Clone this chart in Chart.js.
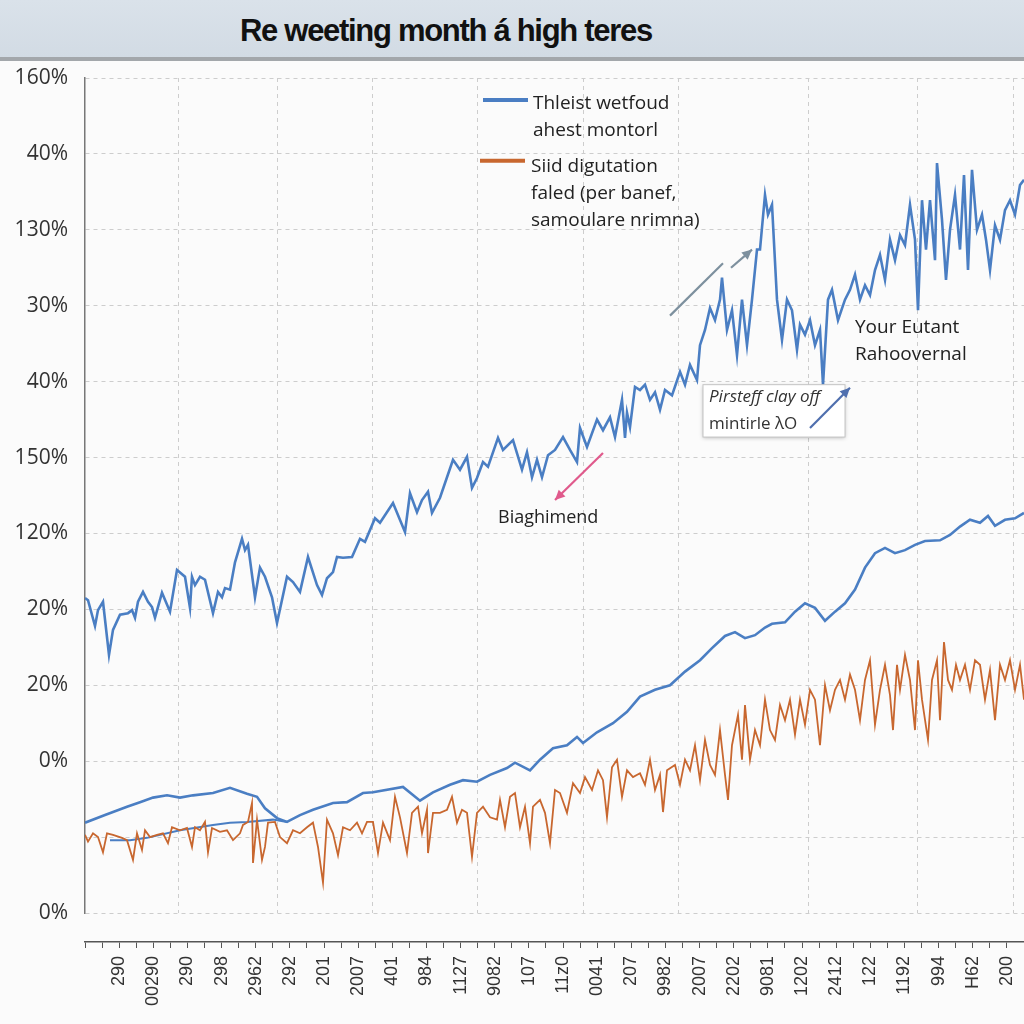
<!DOCTYPE html>
<html lang="en">
<head>
    <meta charset="UTF-8">
    <title>Re weeting month</title>
    <script src="https://cdn.jsdelivr.net/npm/chart.js"></script>
    <style>
        body { margin: 0; background: #fbfbfb; }
        #banner {
            height: 57px;
            padding-left: 240px;
            background: linear-gradient(#dae2ea, #d2dbe4);
            border-bottom: 4px solid #a3a7ab;
            font: bold 31px "Liberation Sans", sans-serif;
            line-height: 62px;
            letter-spacing: -1.3px;
            color: #111;
        }
        canvas { display: block; }
    </style>
</head>
<body>
    <div id="banner">Re weeting month á high teres</div>
    <canvas id="mainChart" width="1024" height="963"></canvas>
    <script>
        // y tick labels, bottom to top (one per 10 units)
        const yTickLabels = ['0%', '', '0%', '20%', '20%', '120%', '150%', '40%', '30%', '130%', '40%', '160%'];
        // bottom axis labels
        const xTickLabels = ['290', '00290', '290', '298', '2962', '292', '201', '2007', '401', '984', '1127', '9082', '107',
            '11z0', '0041', '207', '9982', '2007', '2202', '9081', '1202', '2412', '122', '1192', '994', 'H62', '200'];
        // days where the vertical grid lines sit
        const gridDays = [93, 192, 287, 392, 498, 593, 723, 832, 928];

        // [day, value]
        const blueUpper = [[0,41.5],[3,41.2],[10,37.8],[13,39.9],[18,41.0],[24,34.0],[28,37.3],[35,39.3],[43,39.5],[47,39.9],
            [50,38.9],[53,41.0],[58,42.3],[63,41.0],[67,40.3],[70,38.9],[77,42.2],[85,39.7],[92,45.2],[100,44.3],[105,40.2],
            [107,44.3],[110,43.2],[115,44.3],[120,43.9],[128,39.5],[133,42.3],[137,41.6],[140,42.8],[145,42.6],[150,46.2],
            [157,49.3],[160,47.8],[163,48.5],[170,41.6],[175,45.5],[180,44.3],[187,41.6],[192,38.2],[202,44.3],[208,43.6],
            [215,42.3],[223,46.9],[232,43.2],[237,41.9],[242,44.1],[248,44.9],[252,46.9],[258,46.8],[267,46.9],[275,49.3],
            [280,48.9],[290,52.0],[295,51.4],[308,54.0],[320,50.2],[325,55.3],[332,52.8],[337,54.4],[343,55.5],[347,52.7],
            [355,54.7],[362,57.4],[368,59.7],[375,58.4],[382,60.1],[387,56.0],[392,57.3],[398,59.4],[403,58.8],[413,62.6],
            [418,61.0],[428,62.3],[437,58.4],[442,60.7],[447,57.4],[452,59.7],[457,57.4],[463,60.3],[470,61.0],[478,62.7],
            [485,61.0],[492,59.4],[495,63.9],[502,61.4],[512,65.0],[518,63.6],[525,65.3],[530,62.7],[537,67.6],[540,62.6],
            [542,65.9],[545,64.0],[550,69.3],[555,68.9],[560,69.6],[565,67.6],[570,68.6],[575,66.3],[580,68.9],[587,68.2],
            [595,71.3],[600,69.6],[605,72.2],[612,70.2],[615,74.8],[620,76.8],[625,79.7],[630,78.1],[635,80.8],[637,83.7],
            [642,76.8],[647,79.4],[652,73.5],[657,80.8],[662,74.8],[667,80.8],[672,87.4],[675,87.4],[680,94.6],[683,92.0],
            [687,93.3],[692,80.8],[697,75.5],[702,80.8],[707,79.4],[712,74.2],[715,77.5],[720,76.2],[725,78.1],[730,74.8],
            [735,76.8],[738,69.6],[743,80.8],[747,82.1],[753,78.1],[760,80.8],[765,82.1],[770,84.1],[775,80.8],[780,82.7],
            [785,81.4],[790,84.7],[795,86.7],[800,83.4],[805,88.7],[810,86.0],[815,89.3],[820,88.0],[825,93.3],[830,88.7],
            [833,79.4],[837,93.9],[841,87.4],[845,93.9],[850,86.0],[852,98.8],[857,91.3],[861,83.4],[865,90.0],[870,94.6],
            [875,87.4],[879,97.2],[883,84.7],[887,97.9],[892,90.0],[897,92.0],[901,88.7],[905,84.7],[910,90.6],[915,88.7],
            [920,92.6],[925,93.9],[930,92.0],[935,95.9],[939,96.6]];

        const blueLower = [[0,11.9],[20,12.9],[42,14.0],[55,14.6],[68,15.2],[82,15.5],[95,15.2],[108,15.5],[128,15.8],[145,16.5],
            [162,15.7],[172,15.3],[180,13.8],[192,12.5],[202,12.0],[215,12.9],[228,13.6],[248,14.5],[262,14.6],[278,15.8],
            [288,15.9],[318,16.6],[335,14.8],[348,15.9],[365,16.9],[378,17.5],[392,17.3],[405,18.2],[422,19.1],[430,19.8],
            [445,18.8],[455,20.2],[468,21.7],[482,22.1],[492,23.2],[498,22.4],[512,23.8],[528,25.0],[542,26.5],[555,28.5],
            [570,29.4],[585,30.0],[600,31.8],[615,33.3],[627,34.9],[640,36.5],[650,37.0],[660,36.2],[670,36.6],[680,37.6],
            [687,38.1],[700,38.3],[710,39.7],[720,40.8],[730,40.2],[740,38.5],[750,39.7],[760,40.8],[770,42.6],[780,45.5],
            [790,47.4],[800,48.1],[810,47.4],[820,47.8],[830,48.5],[840,49.0],[855,49.1],[865,49.8],[875,50.9],[885,51.8],
            [895,51.4],[903,52.3],[910,51.0],[920,51.8],[930,52.0],[939,52.7]];

        const blueShort = [[25,9.6],[45,9.6],[62,9.9],[95,10.9],[128,11.6],[145,11.9],[162,12.0],[188,12.3],[202,12.0]];

        const orange = [[0,10.3],[3,9.4],[8,10.5],[13,10.0],[18,8.0],[22,10.5],[28,10.3],[37,9.9],[42,9.6],[48,7.0],[52,10.5],
            [57,8.3],[60,10.9],[65,10.0],[72,10.3],[78,10.5],[83,9.2],[87,11.3],[95,10.9],[102,11.2],[107,8.7],[110,11.3],
            [115,10.9],[120,12.0],[123,8.0],[127,11.2],[135,10.7],[142,10.9],[148,9.6],[155,10.5],[158,11.6],[163,12.0],
            [167,14.5],[168,6.6],[172,12.3],[177,7.0],[180,8.7],[183,11.9],[190,12.0],[195,10.0],[202,9.2],[208,10.9],
            [215,10.5],[222,11.3],[228,11.9],[233,8.7],[238,4.0],[242,12.3],[248,10.5],[253,7.6],[258,11.3],[265,10.9],
            [272,11.9],[277,10.5],[282,12.0],[288,12.0],[293,7.9],[298,11.9],[305,9.6],[310,15.3],[315,12.6],[322,7.9],
            [327,13.2],[333,14.0],[337,10.5],[342,13.6],[343,7.9],[348,13.2],[355,13.2],[362,13.6],[367,15.3],[372,11.9],
            [377,13.6],[382,13.2],[387,7.4],[392,13.2],[398,14.0],[405,12.6],[412,12.3],[415,14.9],[420,11.3],[425,15.3],
            [430,15.8],[435,11.3],[440,14.0],[445,9.2],[448,14.0],[455,14.9],[460,13.2],[465,9.2],[470,16.2],[475,15.8],
            [482,13.2],[488,17.1],[495,15.8],[500,17.9],[507,16.2],[513,18.8],[518,17.5],[522,12.6],[527,19.2],[532,20.2],
            [537,15.3],[542,18.8],[548,17.9],[555,18.4],[560,16.9],[565,20.2],[570,16.2],[575,18.2],[578,13.3],[582,18.8],
            [590,19.5],[595,16.9],[600,20.2],[605,18.8],[610,22.1],[615,17.5],[620,22.8],[625,19.5],[630,18.2],[635,24.1],
            [640,18.2],[643,14.9],[647,22.1],[653,26.1],[657,20.2],[660,27.4],[665,20.2],[670,24.1],[675,22.1],[680,28.1],
            [685,24.1],[690,22.8],[695,27.4],[700,25.4],[705,28.1],[710,23.5],[715,28.1],[720,24.8],[725,29.4],[730,28.1],
            [735,22.1],[740,30.0],[745,26.7],[750,29.4],[755,30.7],[760,28.1],[765,31.4],[770,29.4],[775,25.4],[780,30.7],
            [785,33.3],[790,24.8],[795,29.4],[800,32.7],[805,28.7],[808,24.1],[812,32.7],[815,29.4],[820,34.0],[825,30.7],
            [830,24.1],[833,33.3],[837,28.1],[843,22.8],[847,30.7],[852,33.3],[855,25.4],[859,35.7],[863,30.7],[867,29.4],
            [871,32.7],[875,30.7],[880,32.7],[885,29.4],[890,33.3],[895,32.7],[900,28.1],[905,32.0],[910,25.4],[915,32.7],
            [920,30.7],[925,33.3],[930,29.4],[935,32.7],[939,28.1]];

        const seriesNames = [
            ['Thleist wetfoud', 'ahest montorl'],
            ['Siid digutation', 'faled (per banef,', 'samoulare nrimna)']
        ];

        const BLUE = '#4a7ec3';
        const ORANGE = '#c8672f';
        const toPts = arr => arr.map(p => ({ x: p[0], y: p[1] }));

        // bottom category axis: a tick every half label
        const bottomCats = [];
        for (let i = 0; i < 56; i++) {
            bottomCats.push(i >= 2 && i % 2 === 0 ? xTickLabels[(i - 2) / 2] : '');
        }

        // drop the label overhang padding chart.js adds around each axis
        const noPad = s => { s.paddingLeft = 0; s.paddingRight = 0; s.paddingTop = 0; s.paddingBottom = 0; };

        function arrow(ctx, x1, y1, x2, y2, color, head) {
            ctx.strokeStyle = color;
            ctx.fillStyle = color;
            ctx.lineWidth = 2.2;
            ctx.beginPath();
            ctx.moveTo(x1, y1);
            ctx.lineTo(x2, y2);
            ctx.stroke();
            if (head) {
                const a = Math.atan2(y2 - y1, x2 - x1);
                ctx.beginPath();
                ctx.moveTo(x2, y2);
                ctx.lineTo(x2 - 11 * Math.cos(a - 0.45), y2 - 11 * Math.sin(a - 0.45));
                ctx.lineTo(x2 - 11 * Math.cos(a + 0.45), y2 - 11 * Math.sin(a + 0.45));
                ctx.closePath();
                ctx.fill();
            }
        }

        const notesPlugin = {
            id: 'notes',
            afterDatasetsDraw(chart) {
                const ctx = chart.ctx;
                const X = d => chart.scales.x.getPixelForValue(d);
                const Y = v => chart.scales.y.getPixelForValue(v);
                ctx.save();
                ctx.textBaseline = 'middle';
                ctx.textAlign = 'left';

                // legend inside the plot
                const legendRows = [
                    { color: BLUE, from: 398, to: 443, at: 107.1, textDay: 448, textV: 106.6 },
                    { color: ORANGE, from: 395, to: 440, at: 99.1, textDay: 446, textV: 98.3 }
                ];
                legendRows.forEach((r, i) => {
                    ctx.strokeStyle = r.color;
                    ctx.lineWidth = 4;
                    ctx.beginPath();
                    ctx.moveTo(X(r.from), Y(r.at));
                    ctx.lineTo(X(r.to), Y(r.at));
                    ctx.stroke();
                    ctx.fillStyle = '#222';
                    ctx.font = '19px "Open Sans"';
                    seriesNames[i].forEach((t, k) => ctx.fillText(t, X(r.textDay), Y(r.textV) + k * 27));
                });

                // arrows
                arrow(ctx, X(585), Y(78.7), X(638), Y(85.6), '#7d909e', false);
                arrow(ctx, X(646), Y(85.0), X(667), Y(87.4), '#7d909e', true);
                arrow(ctx, X(518), Y(60.6), X(470), Y(54.4), '#e05a8c', true);

                // callout box
                ctx.shadowColor = 'rgba(0,0,0,0.25)';
                ctx.shadowBlur = 4;
                ctx.shadowOffsetY = 1;
                ctx.fillStyle = '#ffffff';
                ctx.fillRect(X(618), Y(69.6), X(760) - X(618), Y(62.7) - Y(69.6));
                ctx.shadowColor = 'transparent';
                ctx.strokeStyle = '#c4c4c4';
                ctx.lineWidth = 1;
                ctx.strokeRect(X(618), Y(69.6), X(760) - X(618), Y(62.7) - Y(69.6));
                ctx.fillStyle = '#333';
                ctx.font = 'italic 17px "Open Sans"';
                ctx.fillText('Pirsteff clay off', X(624), Y(67.9));
                ctx.font = '17px "Open Sans"';
                ctx.fillText('mintirle λO', X(624), Y(64.4));
                arrow(ctx, X(725), Y(63.9), X(765), Y(69.2), '#4f6fae', true);

                // free notes
                ctx.fillStyle = '#222';
                ctx.font = '18px "Open Sans"';
                ctx.fillText('Biaghimend', X(413), Y(52.0));
                ctx.font = '19px "Open Sans"';
                ctx.fillText('Your Eutant', X(770), Y(77.1));
                ctx.fillText('Rahoovernal', X(770), Y(73.6));
                ctx.restore();
            }
        };

        const ctx = document.getElementById('mainChart').getContext('2d');
        new Chart(ctx, {
            type: 'line',
            data: {
                datasets: [
                    { data: toPts(orange), borderColor: ORANGE, borderWidth: 1.8 },
                    { data: toPts(blueShort), borderColor: BLUE, borderWidth: 2 },
                    { data: toPts(blueLower), borderColor: BLUE, borderWidth: 2.6 },
                    { data: toPts(blueUpper), borderColor: BLUE, borderWidth: 2.6 }
                ]
            },
            options: {
                responsive: false,
                animation: false,
                devicePixelRatio: 1,
                layout: { padding: { top: 17, right: 0, left: 0, bottom: 0 } },
                elements: { point: { radius: 0 }, line: { tension: 0 } },
                plugins: { legend: { display: false }, tooltip: { enabled: false } },
                scales: {
                    x: {
                        type: 'linear',
                        min: 0,
                        max: 939,
                        afterBuildTicks: s => { s.ticks = gridDays.map(v => ({ value: v })); },
                        afterFit: s => { s.height = 29; noPad(s); },
                        ticks: { display: false },
                        border: { display: false, dash: [4, 4] },
                        grid: { color: '#cdcdcd', drawTicks: false }
                    },
                    x2: {
                        type: 'category',
                        position: 'bottom',
                        labels: bottomCats,
                        offset: false,
                        afterFit: s => { s.height = 82; noPad(s); },
                        border: { display: true, color: '#555', width: 1.5 },
                        grid: { drawOnChartArea: false, drawTicks: true, tickLength: 6, color: '#555' },
                        ticks: {
                            autoSkip: false,
                            minRotation: 90,
                            maxRotation: 90,
                            padding: 8,
                            color: '#333',
                            font: { family: 'Liberation Sans', size: 18 }
                        }
                    },
                    y: {
                        min: 0,
                        max: 110,
                        afterFit: s => { s.width = 85; noPad(s); },
                        ticks: {
                            stepSize: 10,
                            padding: 17,
                            color: '#333',
                            font: { family: 'Open Sans', size: 21 },
                            callback: v => yTickLabels[Math.round(v / 10)]
                        },
                        border: { display: true, color: '#777', width: 1.5, dash: [4, 4] },
                        grid: { color: '#cdcdcd', drawTicks: false }
                    }
                }
            },
            plugins: [notesPlugin]
        });
    </script>
</body>
</html>
